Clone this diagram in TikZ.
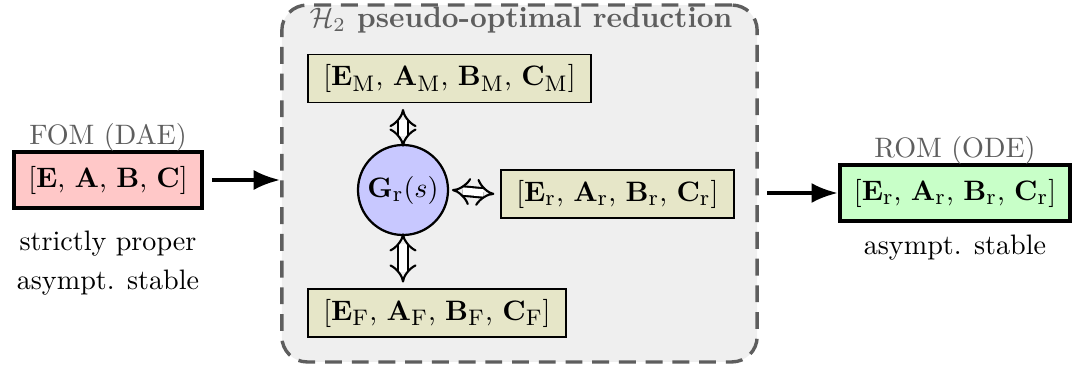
\documentclass[tikz,border=0pt]{standalone}
\usepackage{amsmath}
\usetikzlibrary{arrows.meta,positioning}
\definecolor{ink}{HTML}{000000}
\definecolor{muted}{HTML}{5E5E5E}
\definecolor{panel}{HTML}{EFEFEF}
\definecolor{olive}{HTML}{E6E6C8}
\definecolor{fomfill}{HTML}{FFC8C8}
\definecolor{romfill}{HTML}{C8FFC8}
\definecolor{tffill}{HTML}{C8C8FF}
\newcommand{\lo}[1]{_{\mbox{\footnotesize #1}}}
\tikzset{
  sysbox/.style={draw=ink,line width=0.6pt,fill=olive,inner xsep=5.5pt,inner ysep=2pt,minimum height=0.6cm},
  modelbox/.style={draw=ink,line width=1.4pt,inner xsep=5pt,inner ysep=2pt,minimum height=0.69cm},
  tfnode/.style={circle,draw=ink,line width=0.8pt,fill=tffill,minimum size=1.125cm,inner sep=0pt},
  panelbox/.style={draw=muted,fill=panel,line width=1.2pt,dash pattern=on 6pt off 3.5pt,rounded corners=9pt},
  caption/.style={text=muted,inner sep=1pt},
  arrow/.style={-{Latex[length=3.3mm,width=2.5mm]},line width=1.3pt,draw=ink},
  swap/.style={{Implies}-{Implies},double=white,double distance=2.6pt,line width=0.75pt,draw=ink}
}

\begin{document}
\begin{tikzpicture}[x=0.0125cm,y=-0.0125cm]
  \useasboundingbox (0,0) rectangle (1080,369);

  % reduction panel
  \node[panelbox,minimum width=5.94cm,minimum height=4.46cm] (red) at (519.5,183.5) {};
  \node[text=muted,font=\fontsize{10.4}{12}\selectfont\bfseries] (title) at (521,20) {$\mathcal{H}_2$ pseudo-optimal reduction};

  \node[tfnode] (tf) at (403,190) {$\mathbf{G}\lo{r}(s)$};
  \node[sysbox,anchor=west] (mm) at (307,78.5)
    {[$\mathbf{E}\lo{M}$, $\mathbf{A}\lo{M}$, $\mathbf{B}\lo{M}$, $\mathbf{C}\lo{M}$]};
  \node[sysbox,anchor=west] (mr) at (500,194)
    {[$\mathbf{E}\lo{r}$, $\mathbf{A}\lo{r}$, $\mathbf{B}\lo{r}$, $\mathbf{C}\lo{r}$]};
  \node[sysbox,anchor=west] (mf) at (307,313)
    {[$\mathbf{E}\lo{F}$, $\mathbf{A}\lo{F}$, $\mathbf{B}\lo{F}$, $\mathbf{C}\lo{F}$]};

  \draw[swap] ([yshift=-1pt]tf.north) -- ([yshift=-2pt]tf.north |- mm.south);
  \draw[swap] ([yshift=1pt]tf.south) -- ([yshift=2pt]tf.south |- mf.north);
  \draw[swap] ([xshift=1pt]tf.east) -- ([xshift=-2pt]mr.west);

  % full order model
  \node[modelbox,fill=fomfill] (fom) at (108,180) {[$\mathbf{E}$, $\mathbf{A}$, $\mathbf{B}$, $\mathbf{C}$]};
  \node[caption,above=-1.5pt of fom] (fomlbl) {FOM (DAE)};
  \node[below=4pt of fom,align=center] (fomprop) {strictly proper\\[2pt]asympt. stable};

  % reduced order model
  \node[modelbox,fill=romfill] (rom) at (955,193)
    {[$\mathbf{E}\lo{r}$, $\mathbf{A}\lo{r}$, $\mathbf{B}\lo{r}$, $\mathbf{C}\lo{r}$]};
  \node[caption,above=-1.5pt of rom] (romlbl) {ROM (ODE)};
  \node[below=1pt of rom] (romprop) {asympt. stable};

  \draw[arrow] ([xshift=3pt]fom.east) -- (red.west |- fom.east);
  \draw[arrow] ([xshift=3pt]red.east |- rom.west) -- (rom.west);
\end{tikzpicture}
\end{document}
